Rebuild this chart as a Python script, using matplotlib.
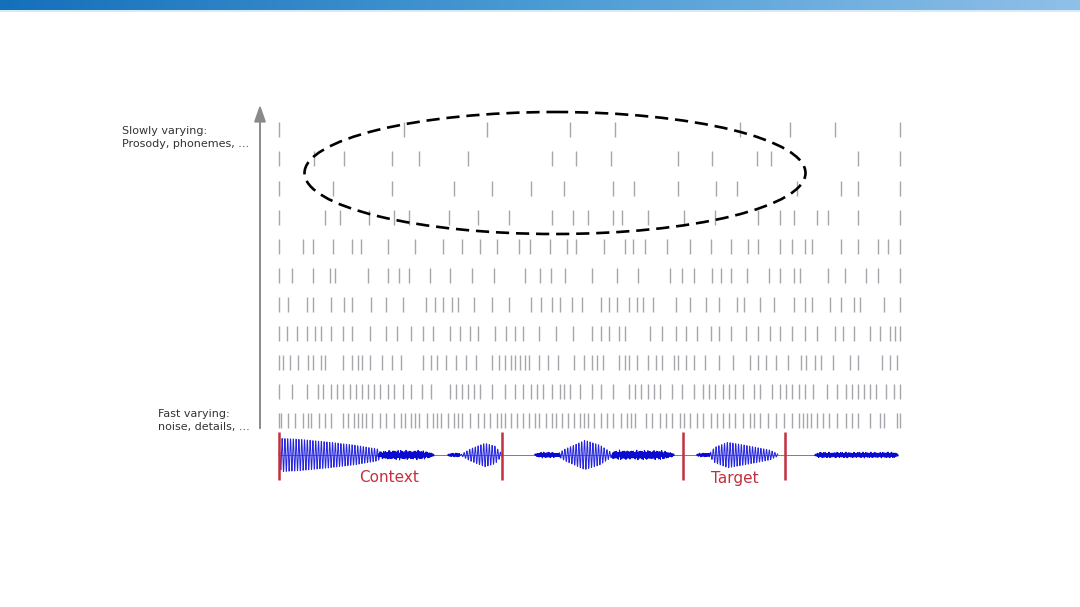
import numpy as np
import matplotlib
matplotlib.use('Agg')
import matplotlib.pyplot as plt
from matplotlib.patches import Ellipse
from matplotlib.colors import LinearSegmentedColormap

# spike times per row (top row = slowest), in slide pixel units
row1 = [279, 404, 487, 570, 615, 740, 790, 835, 900]
row2 = [279, 314, 344, 392, 419, 468, 552, 576, 611, 678, 712, 757, 771, 858, 900]
row3 = [279, 333, 392, 454, 492, 531, 564, 613, 634, 678, 716, 737, 797, 841, 858, 900]
row4 = [279, 325, 340, 369, 394, 409, 449, 478, 509, 552, 573, 588, 613, 622, 648,
        684, 715, 758, 780, 794, 817, 828, 858, 900]
row5 = [279, 303, 313, 333, 352, 361, 388, 415, 443, 462, 480, 497, 519, 530, 550,
        567, 576, 604, 625, 633, 645, 667, 690, 711, 731, 748, 758, 780, 792, 805,
        812, 841, 858, 878, 888, 900]
row6 = [279, 292, 313, 330, 335, 368, 388, 399, 409, 430, 450, 472, 494, 525, 540,
        551, 565, 592, 617, 638, 670, 682, 694, 712, 721, 731, 747, 769, 780, 794,
        800, 828, 845, 866, 878, 900]
row7 = [279, 288, 307, 313, 331, 344, 352, 371, 386, 403, 426, 435, 443, 452, 458,
        474, 492, 509, 531, 541, 552, 560, 572, 582, 601, 609, 617, 629, 637, 643,
        653, 676, 690, 706, 719, 737, 744, 760, 774, 794, 805, 812, 830, 841, 854,
        860, 884, 900]
row8 = [279, 287, 297, 307, 315, 321, 331, 343, 352, 370, 386, 397, 411, 423, 433,
        450, 460, 470, 478, 495, 506, 515, 523, 539, 556, 573, 592, 601, 609, 619,
        625, 650, 662, 676, 686, 697, 711, 719, 731, 746, 758, 770, 780, 792, 805,
        817, 835, 843, 854, 870, 880, 890, 895, 900]
row9 = [279, 283, 290, 298, 308, 313, 321, 325, 343, 352, 358, 362, 370, 382, 392,
        401, 423, 431, 437, 446, 456, 466, 476, 492, 499, 505, 511, 515, 520, 525,
        529, 539, 548, 558, 574, 584, 592, 597, 603, 619, 625, 629, 637, 648, 656,
        662, 674, 678, 686, 694, 705, 719, 733, 750, 758, 766, 776, 788, 801, 806,
        815, 821, 833, 850, 858, 882, 890, 897]
row10 = [279, 292, 307, 318, 323, 331, 337, 343, 350, 356, 362, 368, 374, 380, 388,
         394, 403, 411, 422, 431, 450, 456, 462, 468, 474, 480, 492, 505, 515, 523,
         531, 537, 543, 552, 560, 564, 570, 580, 592, 601, 613, 629, 635, 641, 648,
         654, 660, 672, 682, 694, 703, 709, 715, 723, 729, 735, 743, 754, 760, 772,
         780, 786, 792, 799, 805, 813, 827, 837, 846, 852, 858, 864, 870, 876, 886,
         894, 900]
row11 = [279, 281, 288, 295, 303, 308, 311, 319, 325, 331, 343, 348, 354, 358, 362,
         366, 372, 380, 386, 394, 401, 405, 411, 415, 419, 427, 433, 437, 441, 448,
         454, 458, 462, 470, 478, 484, 490, 497, 501, 505, 511, 517, 523, 529, 535,
         539, 546, 552, 556, 562, 568, 574, 580, 584, 588, 594, 601, 607, 613, 621,
         627, 631, 635, 646, 652, 660, 666, 672, 680, 684, 690, 697, 703, 711, 717,
         723, 729, 735, 743, 750, 754, 760, 768, 776, 784, 792, 799, 803, 807, 811,
         817, 823, 829, 837, 846, 852, 858, 870, 880, 884, 897, 900]
rows = [row1, row2, row3, row4, row5, row6, row7, row8, row9, row10, row11]
row_y = [129, 158, 188, 217, 246, 275, 304, 333, 362, 391, 420]

# waveform envelope breakpoints: (x, half amplitude)
voiced = [
    [(279, 0), (281, 17), (300, 16), (330, 13), (355, 10), (378, 6), (382, 1)],
    [(460, 0), (470, 6), (485, 12), (495, 9), (502, 1)],
    [(556, 0), (565, 6), (585, 15), (600, 10), (612, 2)],
    [(708, 0), (715, 8), (728, 13), (745, 10), (770, 5), (778, 1)],
]
noisy = [
    [(378, 2), (385, 5), (400, 5), (420, 5), (430, 3), (434, 1)],
    [(448, 1), (452, 2), (460, 2)],
    [(535, 1), (540, 3), (552, 3), (560, 2)],
    [(612, 4), (620, 5), (660, 5), (670, 3), (674, 1)],
    [(697, 1), (700, 2), (710, 2)],
    [(815, 1), (820, 3), (860, 3), (895, 3), (898, 1)],
]
markers = [279, 502, 683, 785]
labels = ['Context', 'Target']
label_x = [389, 735]

fig = plt.figure(figsize=(10.8, 6.07), dpi=100)
ax = fig.add_axes([0, 0, 1, 1])
ax.set_xlim(0, 1080)
ax.set_ylim(607, 0)
ax.axis('off')

# top banner
cmap = LinearSegmentedColormap.from_list('bar', ['#1570bb', '#4a9bd4', '#8fc0e8'])
ax.imshow(np.linspace(0, 1, 256)[None, :], cmap=cmap, aspect='auto',
          extent=(0, 1080, 10, 0), zorder=1)
ax.axhline(10.8, color='#cfe6f7', lw=1.2)

# spike rows
for xs, y in zip(rows, row_y):
    ax.vlines(xs, y - 7.5, y + 7.5, color='#a6a6ac', lw=1.0)

# arrow
ax.annotate('', xy=(260, 102), xytext=(260, 431),
            arrowprops=dict(arrowstyle='-|>,head_length=1.0,head_width=0.35',
                            color='#8a8a8a', lw=1.4))

ax.text(122, 137.5, 'Slowly varying:\nProsody, phonemes, ...', fontsize=8,
        color='#333333', va='center', linespacing=1.45)
ax.text(158, 420.5, 'Fast varying:\nnoise, details, ...', fontsize=8,
        color='#333333', va='center', linespacing=1.45)

# dashed ellipse
ax.add_patch(Ellipse((555, 173), 501, 122, fill=False, ec='black', lw=1.9,
                     ls=(0, (5, 2.6)), zorder=5))

# waveform
base = 455
ax.plot([279, 898], [base, base], color='#5a5ae0', lw=0.6)
for seg in voiced:
    px, pa = zip(*seg)
    x = np.arange(px[0], px[-1], 0.2)
    env = np.interp(x, px, pa)
    ax.plot(x, base + env * np.sin(2 * np.pi * x / 2.8), color='#2626e0', lw=0.7)
for seg in noisy:
    px, pa = zip(*seg)
    x = np.arange(px[0], px[-1], 0.15)
    env = np.interp(x, px, pa)
    wig = (np.sin(x * 7.3) + 0.6 * np.sin(x * 13.1 + 1) + 0.4 * np.sin(x * 23.7)) / 2.0
    ax.plot(x, base + env * wig, color='#0a0ad0', lw=0.8)

ax.vlines(markers, 432, 480, color='#c23040', lw=1.8)
for t, x in zip(labels, label_x):
    ax.text(x, 478, t, fontsize=11, color='#c23040', ha='center', va='center')

fig.savefig('out.png', dpi=100, facecolor='white')
